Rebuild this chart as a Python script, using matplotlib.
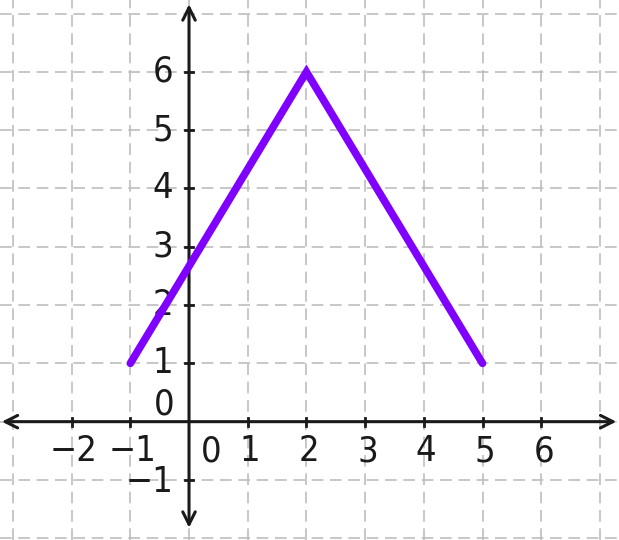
import matplotlib.pyplot as plt
from matplotlib import font_manager

plt.rcParams['font.family'] = ['DejaVu Sans']
plt.rcParams['font.stretch'] = 'condensed'

# vertices of the purple polyline
xs = [-1, 2, 5]
ys = [1, 6, 1]

x_ticks = [-2, -1, 0, 1, 2, 3, 4, 5, 6]
y_ticks = [-1, 0, 1, 2, 3, 4, 5, 6]

fig = plt.figure(figsize=(6.19, 5.40), dpi=100)
ax = fig.add_axes([0, 0, 1, 1])
ax.set_xlim(-3.22, 7.325)
ax.set_ylim(-2.03, 7.233)
ax.axis('off')

# dashed grid
for gx in range(-3, 8):
    ax.axvline(gx, color='#bdbdbd', lw=1.2, ls=(0, (7, 4)), zorder=0)
for gy in range(-2, 8):
    ax.axhline(gy, color='#bdbdbd', lw=1.2, ls=(0, (7, 4)), zorder=0)

# axes with arrows
arrow = dict(arrowstyle='<->,head_length=0.9,head_width=0.45', color='#1a1a1a', lw=2.2,
             shrinkA=0, shrinkB=0)
ax.annotate('', xy=(7.28, 0), xytext=(-3.19, 0), arrowprops=arrow, zorder=3)
ax.annotate('', xy=(0, 7.16), xytext=(0, -1.82), arrowprops=arrow, zorder=3)

# tick marks
for t in x_ticks:
    if t != 0:
        ax.plot([t, t], [-0.07, 0.07], color='#1a1a1a', lw=2, zorder=3)
for t in y_ticks:
    if t != 0:
        ax.plot([-0.07, 0.07], [t, t], color='#1a1a1a', lw=2, zorder=3)

# tick labels
fs = 26
for t in x_ticks:
    xp = 0.37 if t == 0 else t + 0.04
    ax.text(xp, -0.51, str(t).replace('-', '\u2212'), ha='center', va='center', fontsize=fs, color='#1a1a1a')
for t in y_ticks:
    if t == 0:
        ax.text(-0.24, 0.3, '0', ha='right', va='center', fontsize=fs, color='#1a1a1a')
    elif t == -1:
        ax.text(-0.27, -1.03, '\u22121', ha='right', va='center', fontsize=fs, color='#1a1a1a')
    else:
        ax.text(-0.27, t, str(t), ha='right', va='center', fontsize=fs, color='#1a1a1a')

ax.plot(xs, ys, color='#8000ff', lw=5.5, solid_capstyle='round', solid_joinstyle='miter', zorder=4)

fig.savefig('out.png', dpi=100)
